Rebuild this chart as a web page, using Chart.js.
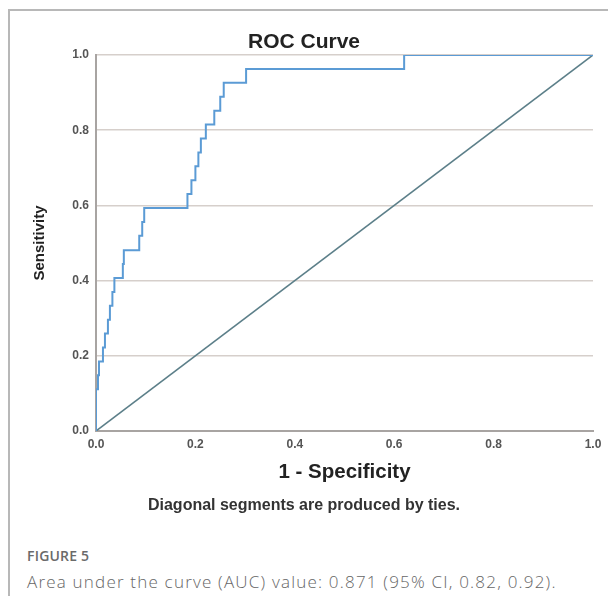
<!DOCTYPE html>
<html lang="en">
<head>
    <meta charset="UTF-8">
    <title>ROC Curve</title>
    <script src="https://cdn.jsdelivr.net/npm/chart.js"></script>
    <style>
        body {
            margin: 0;
            background-color: #fff;
            font-family: "Liberation Sans", Arial, sans-serif;
        }
        #frame {
            position: absolute;
            left: 8px;
            top: 9px;
            width: 600px;
            height: 587px;
            border-top: 2px solid #b8b8b8;
            border-left: 2px solid #b8b8b8;
        }
        #roc-chart {
            position: absolute;
            left: 0;
            top: 0;
        }
        #fig-label {
            position: absolute;
            left: 27px;
            top: 546px;
            line-height: 20px;
            font-family: "Open Sans", sans-serif;
            font-size: 14px;
            font-weight: 600;
            color: #6a6a6a;
            letter-spacing: 0.2px;
        }
        #fig-caption {
            position: absolute;
            left: 27px;
            top: 570px;
            line-height: 24px;
            font-family: "Open Sans", sans-serif;
            font-size: 17px;
            font-weight: 300;
            color: #666;
            letter-spacing: 1.2px;
            white-space: nowrap;
        }
    </style>
</head>
<body>
    <div id="frame"></div>
    <canvas id="roc-chart" width="608" height="525"></canvas>
    <div id="fig-label">FIGURE 5</div>
    <div id="fig-caption">Area under the curve (AUC) value: 0.871 (95% CI, 0.82, 0.92).</div>

    <script>
        // ROC curve vertices (1 - specificity, sensitivity), 27 positive cases
        const fpr = [0, 0, 0.004, 0.004, 0.006, 0.006, 0.014, 0.014, 0.018, 0.018,
            0.024, 0.024, 0.028, 0.028, 0.033, 0.033, 0.037, 0.037, 0.054, 0.054,
            0.056, 0.056, 0.087, 0.087, 0.093, 0.093, 0.097, 0.097, 0.184, 0.184,
            0.192, 0.192, 0.200, 0.200, 0.206, 0.206, 0.211, 0.211, 0.221, 0.221,
            0.238, 0.238, 0.250, 0.250, 0.257, 0.257, 0.302, 0.302, 0.620, 0.620, 1];
        const tpr = [0, 0.111, 0.111, 0.148, 0.148, 0.185, 0.185, 0.222, 0.222, 0.259,
            0.259, 0.296, 0.296, 0.333, 0.333, 0.370, 0.370, 0.407, 0.407, 0.444,
            0.444, 0.481, 0.481, 0.519, 0.519, 0.556, 0.556, 0.593, 0.593, 0.630,
            0.630, 0.667, 0.667, 0.704, 0.704, 0.741, 0.741, 0.778, 0.778, 0.815,
            0.815, 0.852, 0.852, 0.889, 0.889, 0.926, 0.926, 0.963, 0.963, 1, 1];
        // chance line
        const refX = [0, 1];
        const refY = [0, 1];
        const tickValues = [0, 0.2, 0.4, 0.6, 0.8, 1.0];

        const rocPoints = fpr.map((x, i) => ({ x: x, y: tpr[i] }));
        const refPoints = refX.map((x, i) => ({ x: x, y: refY[i] }));

        const ctx = document.getElementById('roc-chart').getContext('2d');
        const rocChart = new Chart(ctx, {
            type: 'line',
            data: {
                datasets: [{
                    label: 'ROC',
                    data: rocPoints,
                    borderColor: '#5b9bd5',
                    borderWidth: 2,
                    pointRadius: 0,
                    tension: 0
                }, {
                    label: 'Reference',
                    data: refPoints,
                    borderColor: '#5c7f89',
                    borderWidth: 1.6,
                    pointRadius: 0,
                    tension: 0
                }]
            },
            options: {
                responsive: false,
                animation: false,
                layout: {
                    padding: 0
                },
                plugins: {
                    legend: { display: false },
                    tooltip: { enabled: false },
                    title: {
                        display: true,
                        text: 'ROC Curve',
                        color: '#222',
                        font: { family: 'Liberation Sans', size: 21, weight: 'bold' },
                        padding: { top: 29.4, bottom: 0.4 }
                    },
                    subtitle: {
                        display: true,
                        position: 'bottom',
                        text: 'Diagonal segments are produced by ties.',
                        color: '#333',
                        font: { family: 'Liberation Sans', size: 16, weight: 'bold' },
                        padding: { top: 9.4, bottom: 9.4 }
                    }
                },
                scales: {
                    x: {
                        type: 'linear',
                        min: 0,
                        max: 1,
                        afterBuildTicks: (scale) => {
                            scale.ticks = tickValues.map(v => ({ value: v }));
                        },
                        afterFit: (scale) => { scale.height = 56; },
                        grid: { display: false, drawTicks: false },
                        border: { display: true, color: '#a8a4a2', width: 2 },
                        ticks: {
                            padding: 6,
                            color: '#555',
                            font: { family: 'Liberation Sans', size: 12, weight: 'bold' },
                            maxRotation: 0,
                            callback: (v) => v.toFixed(1)
                        },
                        title: {
                            display: true,
                            text: '1 - Specificity',
                            color: '#222',
                            font: { family: 'Liberation Sans', size: 20.5, weight: 'bold' },
                            padding: { top: 4, bottom: 2 }
                        }
                    },
                    y: {
                        type: 'linear',
                        min: 0,
                        max: 1,
                        afterBuildTicks: (scale) => {
                            scale.ticks = tickValues.map(v => ({ value: v }));
                        },
                        afterFit: (scale) => { scale.width = 96; },
                        grid: {
                            color: (c) => c.tick && c.tick.value === 0 ? 'rgba(0,0,0,0)' : '#d6cfcb',
                            lineWidth: 1.5,
                            drawTicks: false
                        },
                        border: { display: true, color: '#a8a4a2', width: 2 },
                        ticks: {
                            padding: 7,
                            color: '#555',
                            font: { family: 'Liberation Sans', size: 12, weight: 'bold' },
                            callback: (v) => v.toFixed(1)
                        },
                        title: {
                            display: true,
                            text: 'Sensitivity',
                            color: '#222',
                            font: { family: '"Liberation Sans Narrow", "Liberation Sans"', size: 15, weight: 'bold' },
                            padding: { top: 31, bottom: 0 }
                        }
                    },
                    // empty right-hand strip so the plot ends at 1.0 with a small margin
                    yRight: {
                        type: 'linear',
                        position: 'right',
                        min: 0,
                        max: 1,
                        afterFit: (scale) => { scale.width = 15; },
                        grid: { display: false, drawTicks: false },
                        border: { display: false },
                        ticks: { display: false }
                    }
                }
            }
        });
    </script>
</body>
</html>
